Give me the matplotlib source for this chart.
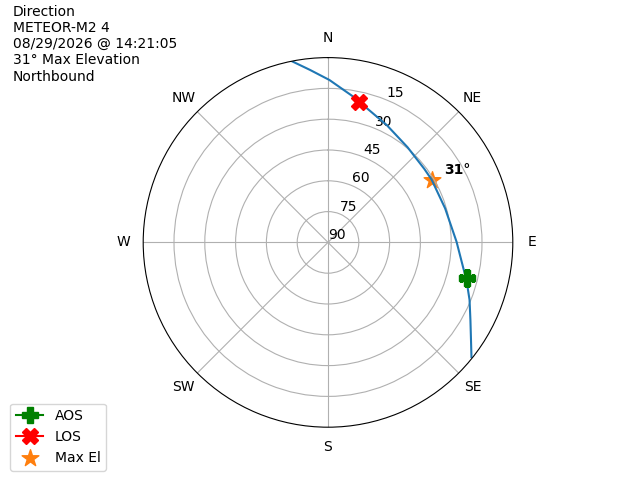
import numpy as np
import matplotlib
matplotlib.use("Agg")
import matplotlib.pyplot as plt

# pass track: azimuth (deg) and elevation (deg)
track_az = [-11.3, -6.0, 0.5, 9.9, 15.3, 26.6, 39.9, 52.8, 58.8, 73.8,
            89.7, 101.5, 104.3, 112.1, 118.6, 124.3, 128.6]
track_el = [0.0, 5.5, 10.9, 18.0, 21.5, 26.1, 29.6, 31.0, 31.0, 30.6,
            27.4, 22.5, 20.6, 15.6, 11.0, 5.7, 0.6]

aos_az, aos_el = 104.5, 20.3
los_az, los_el = 12.6, 19.7
max_az, max_el = 59.0, 31.0

dir_labels = ["N", "NE", "E", "SE", "S", "SW", "W", "NW"]
el_ticks = [15, 30, 45, 60, 75, 90]

info = "Direction\nMETEOR-M2 4\n08/29/2026 @ 14:21:05\n31° Max Elevation\nNorthbound"

fig = plt.figure(figsize=(6.4, 4.8), dpi=100)
ax = fig.add_subplot(111, projection="polar")
ax.set_theta_zero_location("N")
ax.set_theta_direction(-1)

ax.plot(np.radians(track_az), track_el)
ax.scatter(np.radians(max_az), max_el, marker="*", s=160, color="tab:orange", label="Max El")
ax.plot(np.radians(aos_az), aos_el, marker="P", markersize=12, color="green", label="AOS")
ax.plot(np.radians(los_az), los_el, marker="X", markersize=12, color="red", label="LOS")
ax.annotate("%d°" % max_el, (np.radians(max_az), max_el), xytext=(9, 2),
            textcoords="offset points", fontweight="bold", ha="left", va="bottom")

ax.set_xticks(np.radians(np.arange(0, 360, 45)))
ax.set_xticklabels(dir_labels)
ax.set_rlim(90, 0)
ax.set_yticks(el_ticks)

h, l = ax.get_legend_handles_labels()
order = [l.index("AOS"), l.index("LOS"), l.index("Max El")]
fig.legend([h[i] for i in order], [l[i] for i in order], loc="lower left",
           bbox_to_anchor=(0.005, 0.005))

fig.text(0.02, 0.99, info, va="top", ha="left")

fig.savefig("out.png")
